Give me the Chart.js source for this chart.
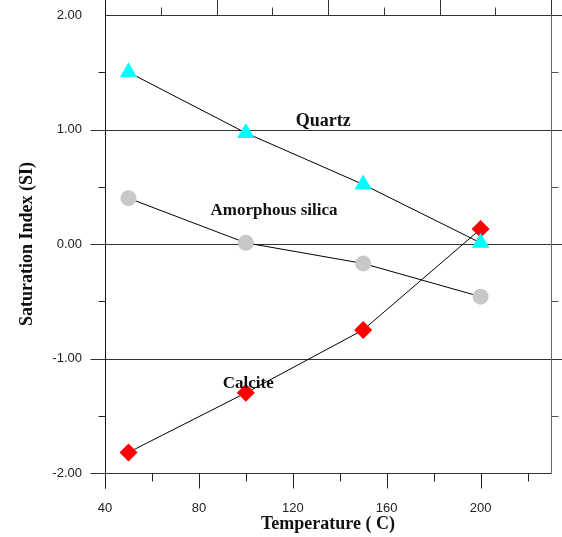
<!DOCTYPE html>
<html>
<head>
<meta charset="utf-8">
<script src="https://cdn.jsdelivr.net/npm/chart.js@4"></script>
<style>
  html, body { margin: 0; padding: 0; background: #fff; }
  #wrap { width: 562px; height: 537px; }
</style>
</head>
<body>
<div id="wrap"><canvas id="chart"></canvas></div>
<script>
// data
var temperatures = [50, 100, 150, 200];
var quartz = [1.50, 0.97, 0.52, 0.01];
var amorphous_silica = [0.40, 0.01, -0.17, -0.46];
var calcite = [-1.82, -1.30, -0.75, 0.13];

var x_labels = [40, 80, 120, 160, 200];
var x_minor = [60, 100, 140, 180, 220];
var y_labels = [2, 1, 0, -1, -2];
var y_minor = [1.5, 0.5, -0.5, -1.5];
var top_major = [87.5, 135, 182.5, 230];
var top_minor = [63.75, 111.25, 158.75, 206.25];

// series names placed inside the plot, in data units
var series_labels = [
    { text: "Quartz", x: 133, y: 1.07, size: 18 },
    { text: "Amorphous silica", x: 112, y: 0.29, size: 17 },
    { text: "Calcite", x: 101, y: -1.22, size: 17 }
];

function points(ys) {
    var out = [];
    for (var i = 0; i < temperatures.length; i++) {
        out.push({ x: temperatures[i], y: ys[i] });
    }
    return out;
}

var frame_plugin = {
    id: "frame",
    beforeDatasetsDraw: function(chart) {
        var ctx = chart.ctx;
        var xs = chart.scales.x;
        var ys = chart.scales.y;
        var a = chart.chartArea;
        var L = Math.round(a.left) + 0.5, R = Math.round(a.right) + 0.5;
        var T = Math.round(a.top) + 0.5, B = Math.round(a.bottom) + 0.5;
        var W = chart.width;

        function line(x1, y1, x2, y2, color) {
            ctx.beginPath();
            ctx.strokeStyle = color;
            ctx.moveTo(x1, y1);
            ctx.lineTo(x2, y2);
            ctx.stroke();
        }
        function px(v) { return Math.round(xs.getPixelForValue(v)) + 0.5; }
        function py(v) { return Math.round(ys.getPixelForValue(v)) + 0.5; }

        ctx.save();
        ctx.lineWidth = 1;

        // horizontal lines at the labelled values
        for (var v of y_labels) {
            var y = py(v);
            var x2 = (v === -2) ? R : W;
            var x1 = (v === 2) ? L : L - 15;
            line(x1, y, x2, y, "#333");
        }
        // left & right minor ticks
        for (var v of y_minor) {
            line(L - 7, py(v), L, py(v), "#222");
            line(R, py(v), R + 7, py(v), "#555");
        }
        // left axis and right border
        line(L, 0, L, B + 15, "#111");
        line(R, 0, R, B, "#666");

        // bottom ticks
        for (var v of x_labels) line(px(v), B, px(v), B + 15, "#222");
        for (var v of x_minor) line(px(v), B, px(v), B + 8, "#222");
        // top ticks
        for (var v of top_major) line(px(v), 0, px(v), T, "#333");
        for (var v of top_minor) line(px(v), T - 8, px(v), T, "#333");

        ctx.restore();
    },
    afterDatasetsDraw: function(chart) {
        var ctx = chart.ctx;
        ctx.save();
        ctx.fillStyle = "#111";
        ctx.textAlign = "center";
        ctx.textBaseline = "middle";
        for (var lab of series_labels) {
            ctx.font = "bold " + lab.size + "px 'Liberation Serif', 'Times New Roman', serif";
            ctx.fillText(lab.text,
                chart.scales.x.getPixelForValue(lab.x),
                chart.scales.y.getPixelForValue(lab.y));
        }
        ctx.restore();
    }
};

var tick_font = { family: "'Liberation Sans', Arial, sans-serif", size: 13 };
var title_font = { family: "'Liberation Serif', 'Times New Roman', serif", size: 18, weight: "bold" };

new Chart(document.getElementById("chart"), {
    type: "scatter",
    data: {
        datasets: [
            {
                label: "Quartz",
                data: points(quartz),
                showLine: true,
                borderColor: "#000",
                borderWidth: 1,
                backgroundColor: "#00ffff",
                pointStyle: "triangle",
                pointRadius: 10,
                pointBorderWidth: 0
            },
            {
                label: "Amorphous silica",
                data: points(amorphous_silica),
                showLine: true,
                borderColor: "#000",
                borderWidth: 1,
                backgroundColor: "#c8c8c8",
                pointStyle: "circle",
                pointRadius: 8,
                pointBorderWidth: 0
            },
            {
                label: "Calcite",
                data: points(calcite),
                showLine: true,
                borderColor: "#000",
                borderWidth: 1,
                backgroundColor: "#ff0000",
                pointStyle: "rectRot",
                pointRadius: 9,
                pointBorderWidth: 0
            }
        ]
    },
    options: {
        responsive: true,
        maintainAspectRatio: false,
        animation: false,
        layout: { padding: { top: 15, right: 11, left: 0, bottom: 0 } },
        plugins: {
            legend: { display: false },
            tooltip: { enabled: false }
        },
        scales: {
            x: {
                type: "linear",
                min: 40,
                max: 230,
                afterFit: function(scale) {
                    scale.height = 64;
                    scale.paddingLeft = 0;
                    scale.paddingRight = 0;
                },
                afterBuildTicks: function(scale) {
                    scale.ticks = x_labels.map(function(v) { return { value: v }; });
                },
                grid: { display: false, drawTicks: false },
                border: { display: false },
                ticks: {
                    font: tick_font,
                    color: "#222",
                    padding: 28,
                    maxRotation: 0,
                    callback: function(v) { return String(v); }
                },
                title: {
                    display: true,
                    text: "Temperature ( C)",
                    font: title_font,
                    color: "#111",
                    padding: { top: 0, bottom: 2 }
                }
            },
            y: {
                min: -2,
                max: 2,
                afterFit: function(scale) {
                    scale.width = 105;
                    scale.paddingTop = 0;
                    scale.paddingBottom = 0;
                },
                afterBuildTicks: function(scale) {
                    scale.ticks = y_labels.map(function(v) { return { value: v }; });
                },
                grid: { display: false, drawTicks: false },
                border: { display: false },
                ticks: {
                    font: tick_font,
                    color: "#222",
                    padding: 23,
                    callback: function(v) { return v.toFixed(2); }
                },
                title: {
                    display: true,
                    text: "Saturation Index (SI)",
                    font: title_font,
                    color: "#111",
                    padding: { top: 17, bottom: 0 }
                }
            }
        }
    },
    plugins: [frame_plugin]
});
</script>
</body>
</html>
